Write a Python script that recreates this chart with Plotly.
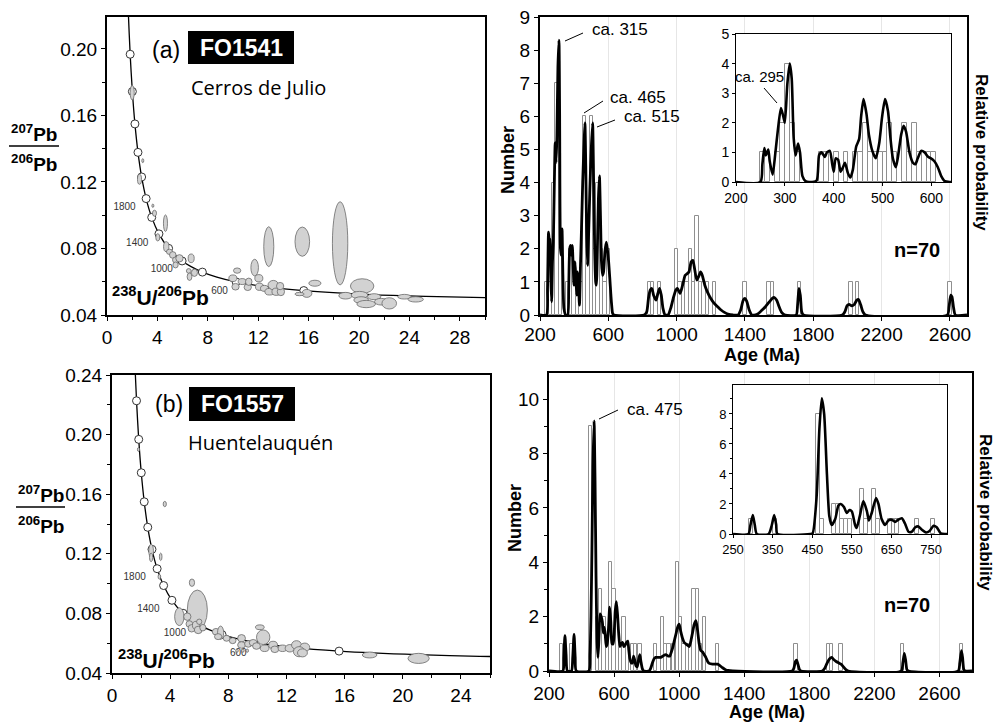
import plotly.graph_objects as go

W, H = 995, 725
def fx(px): return px / W
def fy(py): return 1 - py / H

# ---------------- DATA ----------------
# Concordia curve (Tera-Wasserburg)
conc_x = [1.587, 1.6875, 1.838, 2.013, 2.217, 2.459, 2.749, 3.105, 3.550, 4.123, 4.888, 5.959, 6.674, 7.568, 8.718, 10.25, 12.40, 15.62, 20.99, 25.29, 31.73]
conc_y = [0.2446, 0.2227, 0.1968, 0.1744, 0.1549, 0.1378, 0.1230, 0.1100, 0.0987, 0.0888, 0.0801, 0.0725, 0.0691, 0.0658, 0.0628, 0.0599, 0.0572, 0.0547, 0.0523, 0.0512, 0.0501]

# white age markers on the concordia
mark_a_x = [1.838, 2.013, 2.217, 2.459, 2.749, 3.105, 3.550, 4.123, 4.888, 5.959, 7.568, 10.25, 15.62]
mark_a_y = [0.1968, 0.1744, 0.1549, 0.1378, 0.1230, 0.1100, 0.0987, 0.0888, 0.0801, 0.0725, 0.0658, 0.0599, 0.0547]
mark_b_x = [1.6875, 1.838, 2.013, 2.217, 2.459, 2.749, 3.105, 3.550, 4.123, 4.888, 5.959, 7.568, 10.25, 15.62]
mark_b_y = [0.2227, 0.1968, 0.1744, 0.1549, 0.1378, 0.1230, 0.1100, 0.0987, 0.0888, 0.0801, 0.0725, 0.0658, 0.0599, 0.0547]

# concordia age labels
agelab_text = ["1800", "1400", "1000", "600"]
agelab_a_x = [1.39, 2.40, 4.35, 8.93]
agelab_a_y = [0.1044, 0.0831, 0.0675, 0.0544]
agelab_b_x = [1.56, 2.50, 4.33, 8.69]
agelab_b_y = [0.1038, 0.0827, 0.0666, 0.0532]

# error ellipses FO1541: centre x, centre y, half-width, half-height
ell_a_cx = [18.5, 15.5, 12.84, 20.25, 2.0, 2.84, 2.58, 3.64, 3.77, 4.64, 4.03, 4.7, 4.96, 5.22, 5.44, 5.75, 5.44, 6.68, 6.49, 6.55, 6.94,
            10.33, 9.99, 10.2, 10.73, 11.17, 11.25, 11.72, 12.05, 12.1, 12.5, 12.9, 13.2, 13.43, 13.8, 13.74,
            16.5, 15.86, 15.28, 18.93, 20.04, 20.17, 20.57, 21.2, 21.76, 22.4, 23.6, 24.5]
ell_a_cy = [0.0831, 0.0841, 0.0811, 0.0574, 0.1737, 0.1328, 0.1216, 0.1057, 0.1012, 0.0952, 0.0867, 0.0811, 0.0780, 0.0761, 0.0731, 0.0741, 0.0701, 0.0741, 0.0665, 0.0630, 0.0654,
            0.0667, 0.0621, 0.0570, 0.0601, 0.0567, 0.0600, 0.0685, 0.0621, 0.0570, 0.0560, 0.0540, 0.0580, 0.0540, 0.0540, 0.0574,
            0.0591, 0.0530, 0.0526, 0.0516, 0.0520, 0.0490, 0.0466, 0.0510, 0.0480, 0.0470, 0.0510, 0.0494]
ell_a_rx = [0.61, 0.58, 0.40, 0.93, 0.16, 0.08, 0.16, 0.08, 0.16, 0.16, 0.16, 0.21, 0.24, 0.26, 0.24, 0.29, 0.21, 0.24, 0.19, 0.19, 0.24,
            0.29, 0.32, 0.29, 0.32, 0.29, 0.26, 0.30, 0.32, 0.32, 0.32, 0.37, 0.42, 0.34, 0.29, 0.29,
            0.48, 0.40, 0.37, 0.53, 0.66, 0.58, 0.74, 0.53, 0.53, 0.58, 0.53, 0.61]
ell_a_ry = [0.025, 0.0088, 0.012, 0.0044, 0.0044, 0.0012, 0.003, 0.001, 0.0018, 0.005, 0.0022, 0.003, 0.0016, 0.002, 0.0018, 0.0022, 0.0018, 0.0026, 0.0014, 0.0022, 0.0022,
            0.0016, 0.002, 0.002, 0.0018, 0.002, 0.0022, 0.005, 0.0022, 0.0022, 0.0018, 0.002, 0.0028, 0.0022, 0.0024, 0.0022,
            0.0018, 0.0024, 0.001, 0.002, 0.0022, 0.002, 0.0022, 0.0018, 0.002, 0.0034, 0.0014, 0.0016]

# error ellipses FO1557
ell_b_cx = [5.87, 4.63, 10.4, 1.82, 3.63, 2.69, 2.69, 3.35, 3.26, 5.5, 5.18, 5.32, 5.48, 5.78, 6.0, 5.93, 6.25, 7.15, 7.47, 7.3, 7.88, 8.3,
            8.91, 8.91, 8.6, 9.0, 9.3, 9.37, 9.71, 10.17, 9.94, 10.5, 11.08, 11.2, 11.73, 12.23, 12.69, 13.26, 12.87, 13.1, 17.72, 21.09]
ell_b_cy = [0.0823, 0.0778, 0.0640, 0.190, 0.1534, 0.1220, 0.1176, 0.1180, 0.1046, 0.1006, 0.0778, 0.0729, 0.0700, 0.0720, 0.0744, 0.0689, 0.0704, 0.0677, 0.0670, 0.0644, 0.0633, 0.0617,
            0.0633, 0.0588, 0.0550, 0.0550, 0.0550, 0.0595, 0.0603, 0.0707, 0.0581, 0.0566, 0.0588, 0.0559, 0.0566, 0.0566, 0.0588, 0.0572, 0.0543, 0.0535, 0.0521, 0.0498]
ell_b_rx = [0.69, 0.32, 0.46, 0.07, 0.11, 0.16, 0.11, 0.09, 0.09, 0.18, 0.25, 0.23, 0.25, 0.25, 0.18, 0.27, 0.21, 0.25, 0.21, 0.25, 0.23, 0.23,
            0.27, 0.27, 0.09, 0.09, 0.09, 0.25, 0.27, 0.30, 0.27, 0.30, 0.30, 0.27, 0.30, 0.32, 0.34, 0.34, 0.39, 0.34, 0.50, 0.73]
ell_b_ry = [0.0134, 0.006, 0.0049, 0.0013, 0.0018, 0.0045, 0.0029, 0.0025, 0.0016, 0.0025, 0.0025, 0.0022, 0.0025, 0.0027, 0.0018, 0.0025, 0.0022, 0.0022, 0.0045, 0.002, 0.002, 0.002,
            0.0025, 0.0022, 0.0011, 0.0011, 0.0011, 0.0022, 0.0022, 0.0016, 0.0022, 0.0022, 0.0025, 0.0022, 0.0022, 0.0025, 0.0029, 0.0029, 0.0034, 0.0027, 0.002, 0.0034]

# Histogram FO1541 (20 Ma bins)
hist_a_age = [240, 260, 280, 300, 320, 360, 380, 400, 420, 440, 460, 480, 500, 520, 540, 560, 580, 600,
              840, 860, 900, 1000, 1020, 1040, 1060, 1080, 1100, 1120, 1140, 1160, 1180, 1220,
              1400, 1540, 1560, 1720, 2020, 2060, 2600]
hist_a_n = [1, 1, 4, 7, 2, 1, 2, 1, 1, 1, 6, 2, 6, 2, 4, 2, 1, 2,
            1, 1, 1, 2, 1, 1, 1, 2, 1, 3, 1, 1, 1, 1,
            1, 1, 1, 1, 1, 1, 1]
# probability curve FO1541
pdf_a_age = [200, 238, 244, 250, 255, 259, 264, 268, 273, 278, 284, 289, 294, 299, 305, 311, 315, 320, 325, 329, 334, 340, 350,
             362, 368, 374, 379, 384, 389, 394, 399, 405, 410, 415, 420, 425, 431, 437, 443, 450, 458, 463, 468, 473, 478,
             485, 492, 500, 508, 514, 520, 526, 530, 536, 542, 548, 554, 560, 566, 572, 580, 588, 594, 602, 610, 618, 625, 632,
             810, 825, 835, 845, 855, 865, 880, 890, 900, 910, 920, 932, 950, 965, 980, 995, 1005, 1020, 1035, 1050, 1062, 1072,
             1085, 1095, 1105, 1118, 1128, 1140, 1150, 1165, 1180, 1200, 1220, 1240, 1260, 1280, 1300, 1330,
             1360, 1375, 1390, 1400, 1410, 1425, 1440, 1455, 1480, 1500, 1520, 1540, 1560, 1570, 1585, 1600, 1615, 1635,
             1700, 1708, 1716, 1724, 1732, 1742, 1970, 1985, 1998, 2010, 2025, 2040, 2055, 2065, 2078, 2090, 2105,
             2585, 2595, 2605, 2612, 2622, 2632, 2700]
pdf_a_val = [0, 0, 0.8, 2.5, 2.2, 2.3, 1.0, 0.4, 1.6, 2.2, 4.0, 5.2, 4.6, 5.4, 7.5, 8.3, 6.0, 2.0, 1.8, 2.6, 1.2, 0.2, 0,
             0, 0.8, 2.0, 2.1, 1.8, 2.1, 1.5, 0.9, 1.6, 1.1, 0.6, 1.3, 1.0, 0.3, 1.5, 2.6, 4.0, 5.2, 5.8, 4.5, 2.5, 1.5,
             2.5, 3.8, 5.0, 5.8, 4.0, 2.0, 1.0, 0.9, 2.0, 3.5, 4.2, 3.0, 1.6, 1.2, 1.3, 1.9, 2.2, 2.0, 1.6, 1.0, 0.4, 0.05, 0,
             0, 0.1, 0.5, 0.75, 0.8, 0.6, 0.45, 0.65, 0.8, 0.6, 0.2, 0, 0, 0.2, 0.5, 0.75, 0.8, 0.65, 0.9, 1.2, 1.25, 1.3,
             1.6, 1.65, 1.4, 1.05, 1.15, 1.3, 1.2, 0.9, 0.7, 0.5, 0.35, 0.25, 0.15, 0.08, 0.03, 0,
             0, 0.15, 0.45, 0.5, 0.42, 0.15, 0, 0, 0.05, 0.15, 0.25, 0.38, 0.5, 0.53, 0.45, 0.25, 0.08, 0,
             0, 0.3, 0.8, 0.6, 0.1, 0, 0, 0.1, 0.28, 0.32, 0.28, 0.32, 0.45, 0.47, 0.3, 0.1, 0,
             0, 0.25, 0.6, 0.55, 0.2, 0, 0]

# Inset FO1541 (10 Ma bins)
ins_a_age = [255, 265, 285, 295, 305, 315, 325, 375, 385, 405, 425, 445, 455, 465, 475, 485, 495, 505, 515, 525, 545, 555, 565, 575, 585, 595, 605]
ins_a_n = [1, 1, 1, 2, 4, 2, 1, 1, 1, 1, 1, 1, 1, 2, 1, 1, 1, 1, 2, 1, 2, 1, 2, 1, 1, 1, 1]
ins_pdf_a_age = [200, 250, 254, 258, 261, 266, 269, 275, 280, 286, 292, 297, 300, 305, 310, 314, 318, 322, 327, 331, 336, 343, 351,
                 365, 370, 375, 382, 386, 392, 397, 400, 404, 409, 414, 419, 423, 429, 434, 439, 446, 452, 456, 461, 467, 472,
                 479, 486, 493, 499, 505, 511, 516, 521, 527, 531, 538, 543, 548, 555, 562, 567, 572, 579, 586, 593, 599, 606,
                 613, 620, 627, 637, 640]
ins_pdf_a_val = [0, 0, 0.6, 1.15, 0.9, 1.1, 0.7, 0.25, 0.9, 1.8, 2.5, 2.2, 2.0, 3.3, 4.0, 3.5, 1.5, 0.9, 1.3, 1.0, 0.2, 0.02, 0,
                 0.05, 0.9, 1.0, 0.85, 1.0, 1.05, 0.6, 0.35, 0.8, 0.75, 0.35, 0.5, 0.65, 0.3, 0.15, 0.4, 1.2, 1.45, 2.2, 2.8, 2.3, 1.6,
                 1.05, 0.8, 1.3, 2.2, 2.8, 2.4, 1.5, 0.8, 0.5, 0.8, 1.6, 1.9, 1.7, 1.0, 0.65, 0.6, 0.8, 1.05, 1.0, 0.85, 0.8, 0.7,
                 0.5, 0.2, 0.03, 0, 0]

# Histogram FO1557 (20 Ma bins)
hist_b_age = [276, 337, 456, 497, 518, 538, 559, 579, 600, 620, 641, 661, 682, 713, 733, 760,
              856, 897, 918, 938, 965, 990, 1010, 1030, 1051, 1071, 1092, 1113, 1133, 1154, 1236,
              1718, 1916, 1937, 1994, 2374, 2734]
hist_b_n = [1, 1, 9, 2, 3, 2, 1, 4, 3, 2, 1, 2, 1, 1, 1, 1,
            1, 2, 1, 1, 1, 4, 2, 1, 1, 1, 3, 3, 1, 2, 1,
            1, 1, 1, 1, 1, 1]
pdf_b_age = [200, 285, 291, 298, 305, 313, 338, 346, 354, 361, 368, 445, 452, 458, 464, 470, 477, 483, 489, 495, 501, 507, 514,
             521, 528, 534, 540, 546, 552, 558, 566, 573, 580, 587, 594, 600, 607, 614, 621, 628, 636, 644, 652, 660, 668, 676,
             684, 690, 697, 705, 713, 720, 727, 734, 742, 750, 758, 765, 773, 782,
             815, 825, 836, 846, 856, 870, 887, 900, 918, 932, 943, 952, 960, 970, 980, 990, 1000, 1010, 1021, 1031, 1041,
             1051, 1062, 1072, 1082, 1092, 1103, 1113, 1123, 1133, 1144, 1154, 1164, 1175, 1185, 1205, 1236, 1250, 1267, 1285,
             1300, 1330, 1695, 1705, 1715, 1722, 1730, 1740, 1750, 1880, 1895, 1910, 1925, 1938, 1950, 1965, 1980, 1995, 2010,
             2025, 2040, 2365, 2375, 2384, 2392, 2400, 2410, 2715, 2725, 2735, 2742, 2750, 2760, 2800]
pdf_b_val = [0, 0, 0.5, 1.3, 0.6, 0, 0, 0.5, 1.35, 0.5, 0, 0, 0.6, 2.0, 4.5, 7.5, 9.2, 7.0, 3.5, 1.2, 0.5, 1.2, 2.1,
             2.0, 1.8, 1.4, 1.6, 1.3, 0.9, 1.0, 1.6, 2.35, 1.8, 1.0, 1.0, 1.3, 2.2, 2.55, 2.1, 1.4, 0.9, 1.0, 1.05, 0.9, 0.95, 1.05,
             1.1, 0.8, 0.45, 0.3, 0.3, 0.55, 0.4, 0.2, 0.15, 0.4, 0.6, 0.35, 0.1, 0,
             0, 0.1, 0.3, 0.45, 0.5, 0.5, 0.5, 0.55, 0.6, 0.55, 0.55, 0.7, 0.85, 1.1, 1.35, 1.6, 1.72, 1.45, 1.2, 1.05, 1.0,
             0.95, 0.9, 1.1, 1.4, 1.7, 1.85, 1.5, 1.0, 0.75, 0.7, 0.6, 0.5, 0.35, 0.28, 0.25, 0.25, 0.2, 0.12, 0.05,
             0.02, 0, 0, 0.1, 0.35, 0.4, 0.25, 0.05, 0, 0, 0.1, 0.3, 0.45, 0.5, 0.42, 0.35, 0.3, 0.25, 0.15,
             0.05, 0, 0, 0.3, 0.65, 0.4, 0.05, 0, 0, 0.3, 0.75, 0.5, 0.05, 0, 0]

# Inset FO1557 (10 Ma bins)
ins_b_age = [295, 355, 465, 475, 505, 515, 525, 535, 545, 575, 585, 605, 615, 645, 655, 665, 715, 755]
ins_b_n = [1, 1, 8, 1, 2, 2, 1, 1, 1, 3, 1, 3, 1, 1, 1, 1, 1, 1]
ins_pdf_b_age = [250, 289, 294, 300, 305, 310, 340, 348, 354, 359, 362, 445, 451, 461, 468, 474, 480, 487, 493, 499, 508, 516, 522,
                 530, 537, 544, 550, 558, 562, 570, 579, 588, 593, 600, 611, 617, 625, 634, 642, 651, 659, 667, 676, 684, 693,
                 701, 710, 718, 726, 737, 746, 756, 764, 774, 785, 790]
ins_pdf_b_val = [0, 0, 0.6, 1.27, 0.6, 0, 0, 0.6, 1.27, 0.6, 0, 0, 0.05, 2.5, 7.0, 9.05, 8.0, 4.0, 1.2, 0.6, 1.0, 1.9, 2.0,
                 1.8, 1.4, 1.6, 1.5, 0.6, 0.4, 1.2, 2.2, 1.5, 0.9, 1.4, 2.4, 2.0, 1.0, 0.6, 0.9, 0.95, 0.8, 0.95, 1.05, 0.7, 0.15,
                 0.15, 0.45, 0.5, 0.3, 0.1, 0.2, 0.55, 0.45, 0.05, 0, 0]

# ---------------- FIGURE ----------------
fig = go.Figure()
FONT = "Liberation Sans, Arial, sans-serif"
ELL_FILL = "#d2d2d2"
ELL_LINE = "#6a6a6a"
BAR_LINE = "#8f8f8f"

# concordia lines
for xa, ya in (("x", "y"), ("x2", "y2")):
    fig.add_trace(go.Scatter(x=conc_x, y=conc_y, mode="lines", line=dict(color="black", width=1.3, shape="spline", smoothing=0.8),
                             xaxis=xa, yaxis=ya, hoverinfo="skip"))
fig.add_trace(go.Scatter(x=mark_a_x, y=mark_a_y, mode="markers", xaxis="x", yaxis="y",
                         marker=dict(symbol="circle", size=8, color="white", line=dict(color="#333", width=1))))
fig.add_trace(go.Scatter(x=mark_b_x, y=mark_b_y, mode="markers", xaxis="x2", yaxis="y2",
                         marker=dict(symbol="circle", size=8, color="white", line=dict(color="#333", width=1))))
fig.add_trace(go.Scatter(x=agelab_a_x, y=agelab_a_y, mode="text", text=agelab_text, xaxis="x", yaxis="y",
                         textfont=dict(family=FONT, size=10, color="#333")))
fig.add_trace(go.Scatter(x=agelab_b_x, y=agelab_b_y, mode="text", text=agelab_text, xaxis="x2", yaxis="y2",
                         textfont=dict(family=FONT, size=10, color="#333")))

shapes = []
for cx, cy, rx, ry in zip(ell_a_cx, ell_a_cy, ell_a_rx, ell_a_ry):
    shapes.append(dict(type="circle", xref="x", yref="y", x0=cx - rx, x1=cx + rx, y0=cy - ry, y1=cy + ry,
                       fillcolor=ELL_FILL, line=dict(color=ELL_LINE, width=0.8), layer="above"))
for cx, cy, rx, ry in zip(ell_b_cx, ell_b_cy, ell_b_rx, ell_b_ry):
    shapes.append(dict(type="circle", xref="x2", yref="y2", x0=cx - rx, x1=cx + rx, y0=cy - ry, y1=cy + ry,
                       fillcolor=ELL_FILL, line=dict(color=ELL_LINE, width=0.8), layer="above"))

# histograms + probability curves
def add_hist(ages, counts, width, xa, ya):
    fig.add_trace(go.Bar(x=ages, y=counts, width=width, xaxis=xa, yaxis=ya,
                         marker=dict(color="white", line=dict(color=BAR_LINE, width=1))))

def add_pdf(ages, vals, xa, ya, w):
    fig.add_trace(go.Scatter(x=ages, y=vals, mode="lines", xaxis=xa, yaxis=ya,
                             line=dict(color="black", width=w, shape="spline", smoothing=0.6)))

add_hist(hist_a_age, hist_a_n, 20, "x3", "y3")
add_pdf(pdf_a_age, pdf_a_val, "x3", "y3", 2.8)
add_hist(hist_b_age, hist_b_n, 20, "x4", "y4")
add_pdf(pdf_b_age, pdf_b_val, "x4", "y4", 2.8)
add_hist(ins_a_age, ins_a_n, 10, "x5", "y5")
add_pdf(ins_pdf_a_age, ins_pdf_a_val, "x5", "y5", 2.6)
add_hist(ins_b_age, ins_b_n, 10, "x6", "y6")
add_pdf(ins_pdf_b_age, ins_pdf_b_val, "x6", "y6", 2.6)

# white background behind insets (hides the main grid lines there)
shapes.append(dict(type="rect", xref="x3", yref="y3", x0=1347, x1=2606, y0=4.02, y1=8.49,
                   fillcolor="white", line=dict(width=0), layer="between"))
shapes.append(dict(type="rect", xref="x4", yref="y4", x0=1332, x1=2649, y0=5.03, y1=10.5,
                   fillcolor="white", line=dict(width=0), layer="between"))

# sample boxes
shapes.append(dict(type="rect", xref="paper", yref="paper", x0=fx(188), x1=fx(294), y0=fy(64), y1=fy(31),
                   fillcolor="black", line=dict(width=0), layer="above"))
shapes.append(dict(type="rect", xref="paper", yref="paper", x0=fx(189), x1=fx(295), y0=fy(421), y1=fy(387),
                   fillcolor="black", line=dict(width=0), layer="above"))
# fraction bars of y labels
shapes.append(dict(type="line", xref="paper", yref="paper", x0=fx(9), x1=fx(59), y0=fy(146), y1=fy(146),
                   line=dict(color="black", width=1.5), layer="above"))
shapes.append(dict(type="line", xref="paper", yref="paper", x0=fx(16), x1=fx(65), y0=fy(507), y1=fy(507),
                   line=dict(color="black", width=1.5), layer="above"))
# leader lines
for (x0, y0, x1, y1) in [(565, 41, 583, 33), (584, 113, 603, 101), (597, 127, 615, 120), (777, 103, 764, 88), (599, 419, 618, 410)]:
    shapes.append(dict(type="line", xref="paper", yref="paper", x0=fx(x0), y0=fy(y0), x1=fx(x1), y1=fy(y1),
                       line=dict(color="black", width=1), layer="above"))

ann = []
def text(px, py, s, size, bold=False, color="black", angle=0, family=FONT, xanchor="center"):
    ann.append(dict(xref="paper", yref="paper", x=fx(px), y=fy(py), text=("<b>%s</b>" % s) if bold else s,
                    showarrow=False, xanchor=xanchor, yanchor="middle", textangle=angle,
                    font=dict(family=family, size=size, color=color)))

text(166, 50, "(a)", 23)
text(241, 48, "FO1541", 23, bold=True, color="white")
text(258, 87, "Cerros de Julio", 20, family="Open Sans, sans-serif")
text(169, 404, "(b)", 23)
text(242, 404, "FO1557", 23, bold=True, color="white")
text(260, 442, "Huentelauquén", 20, family="Open Sans, sans-serif")
text(34, 133, "<sup>207</sup>Pb", 19, bold=True)
text(34, 163, "<sup>206</sup>Pb", 19, bold=True)
text(41, 494, "<sup>207</sup>Pb", 19, bold=True)
text(41, 525, "<sup>206</sup>Pb", 19, bold=True)
text(160, 296, "<sup>238</sup>U/<sup>206</sup>Pb", 21, bold=True)
text(166, 659, "<sup>238</sup>U/<sup>206</sup>Pb", 21, bold=True)
text(508, 160, "Number", 18, bold=True, angle=-90)
text(515, 518, "Number", 18, bold=True, angle=-90)
text(982, 152, "Relative probability", 17, bold=True, angle=90)
text(985, 512, "Relative probability", 17, bold=True, angle=90)
text(762, 355, "Age (Ma)", 18, bold=True)
text(767, 712, "Age (Ma)", 18, bold=True)
text(917, 250, "n=70", 20, bold=True)
text(907, 605, "n=70", 20, bold=True)
text(590, 30, "ca. 315", 17, xanchor="left")
text(608, 98, "ca. 465", 17, xanchor="left")
text(622, 117, "ca. 515", 17, xanchor="left")
text(733, 77, "ca. 295", 15, xanchor="left")
text(625, 409, "ca. 475", 17, xanchor="left")

def axis(domain, rng, anchor, lw=2, tickfont=19, **kw):
    d = dict(domain=domain, range=rng, anchor=anchor, showline=True, linecolor="black", linewidth=lw, mirror=True,
             zeroline=False, showgrid=False, ticks="outside", ticklen=4, tickcolor="black", tickwidth=1,
             automargin=False, fixedrange=True,
             tickfont=dict(family=FONT, size=tickfont, color="black"))
    d.update(kw)
    return d

fig.update_layout(
    template="none",
    width=W, height=H, margin=dict(l=0, r=0, t=0, b=0, pad=0), autosize=False,
    paper_bgcolor="white", plot_bgcolor="white",
    showlegend=False, bargap=0, font=dict(family=FONT, color="black"),
    xaxis=axis([fx(107), fx(485)], [0, 30], "y", tick0=0, dtick=4, minor=dict(dtick=2, ticks="outside", ticklen=3)),
    yaxis=axis([fy(315), fy(17)], [0.04, 0.2192], "x", tick0=0.04, dtick=0.04, tickformat=".2f",
               minor=dict(dtick=0.02, ticks="outside", ticklen=3)),
    xaxis2=axis([fx(112), fx(490)], [0, 26], "y2", tick0=0, dtick=4, minor=dict(dtick=2, ticks="outside", ticklen=3)),
    yaxis2=axis([fy(673), fy(375)], [0.04, 0.24], "x2", tick0=0.04, dtick=0.04, tickformat=".2f",
                minor=dict(dtick=0.02, ticks="outside", ticklen=3)),
    xaxis3=axis([fx(540), fx(967)], [200, 2700], "y3", tick0=200, dtick=400, showgrid=True, gridcolor="#e6e6e6", gridwidth=1,
                ticklabelstandoff=-3),
    yaxis3=axis([fy(315), fy(17)], [0, 9], "x3", tick0=0, dtick=1),
    xaxis4=axis([fx(549), fx(972)], [200, 2800], "y4", tick0=200, dtick=400, showgrid=True, gridcolor="#e6e6e6", gridwidth=1),
    yaxis4=axis([fy(671), fy(373)], [0, 10.96], "x4", tick0=0, dtick=2, minor=dict(dtick=1, ticks="outside", ticklen=3)),
    xaxis5=axis([fx(736), fx(951)], [200, 640], "y5", lw=1, tickfont=14, tick0=200, dtick=100, ticklen=3),
    yaxis5=axis([fy(182), fy(34)], [0, 5], "x5", lw=1, tickfont=14, tick0=0, dtick=1, ticklen=3),
    xaxis6=axis([fx(733), fx(947)], [250, 790], "y6", lw=1, tickfont=13, tick0=250, dtick=100, ticklen=3),
    yaxis6=axis([fy(534), fy(385)], [0, 9.93], "x6", lw=1, tickfont=13, tick0=0, dtick=2, ticklen=3,
                minor=dict(dtick=1, ticks="outside", ticklen=2)),
    shapes=shapes, annotations=ann,
)

fig.write_html("out.html", config={"displayModeBar": False},
               post_script="document.body.style.margin='0px';document.body.style.overflow='hidden';")
